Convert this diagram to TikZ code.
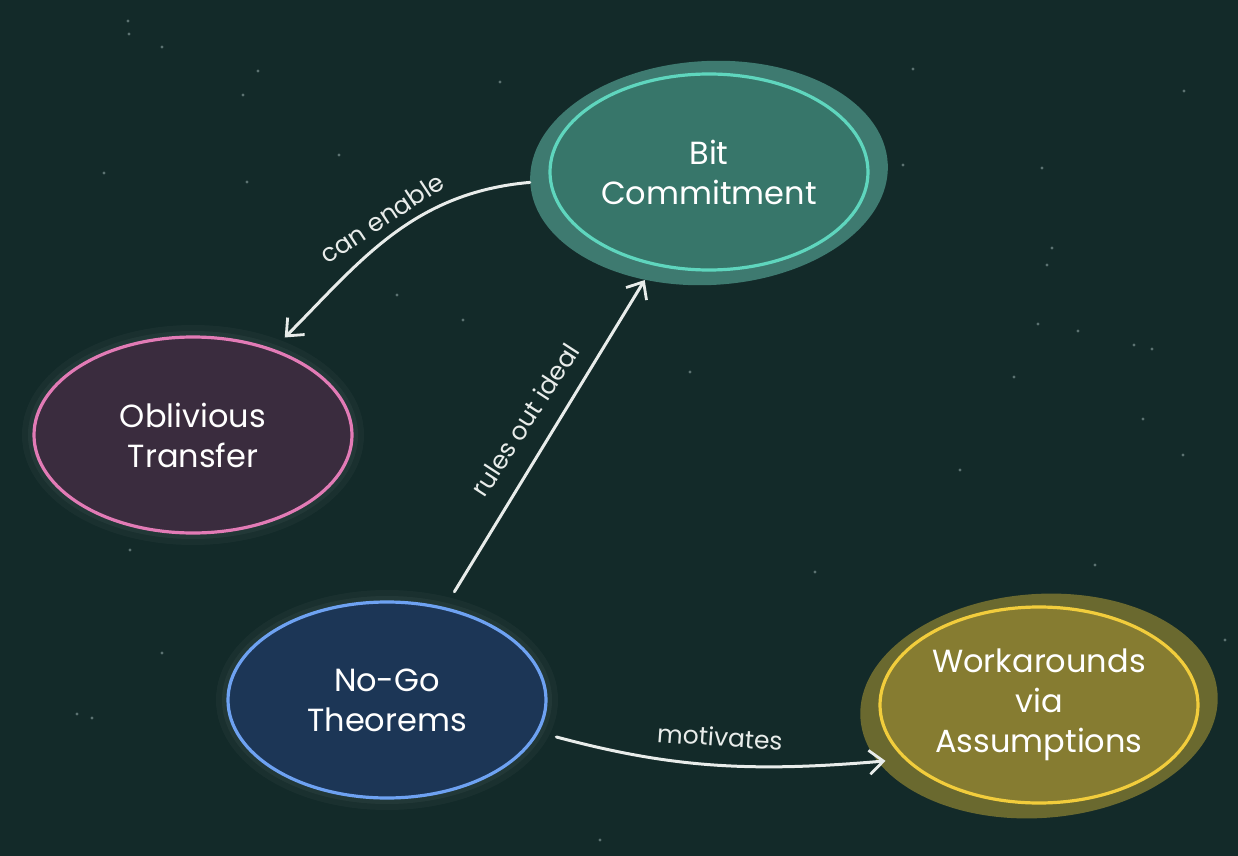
\documentclass[tikz,border=0pt]{standalone}
\usepackage{fontspec}
\setmainfont{Poppins}
\usetikzlibrary{shapes.geometric,arrows.meta}
\definecolor{bgc}{HTML}{132A29}
\definecolor{bcfill}{HTML}{37766A}
\definecolor{bchalo}{HTML}{3E7A70}
\definecolor{bcline}{HTML}{5FD6BE}
\definecolor{otfill}{HTML}{3A2C3E}
\definecolor{otline}{HTML}{E27BB6}
\definecolor{ngfill}{HTML}{1C3656}
\definecolor{ngline}{HTML}{6EA2F2}
\definecolor{wafill}{HTML}{867C31}
\definecolor{wahalo}{HTML}{6A692F}
\definecolor{waline}{HTML}{F2CD3C}
\definecolor{edgec}{HTML}{E8ECEA}
\definecolor{starc}{HTML}{6F8583}
\tikzset{
  concept/.style={ellipse, minimum width=159pt, minimum height=98pt, inner sep=0pt,
    line width=1.6pt, align=center, text=white, font=\fontsize{16}{20}\selectfont},
  halo/.style={ellipse, minimum width=179pt, minimum height=112pt, inner sep=0pt},
  glow/.style={preaction={draw=white, draw opacity=0.03, line width=12pt},
               preaction={draw=white, draw opacity=0.04, line width=6pt}},
  conn/.style={draw=edgec, line width=1.5pt, line cap=round,
    -{Straight Barb[length=7pt, width=12pt, line width=1.4pt]}},
  elabel/.style={text=edgec, font=\fontsize{12.5}{14}\selectfont, inner sep=1pt}
}
\begin{document}
\begin{tikzpicture}[x=0.5pt, y=0.5pt]
\fill[bgc] (0,0) rectangle (1238,-856);
\useasboundingbox (0,0) rectangle (1238,-856);
% stars
\foreach \sx/\sy in {128/21,129/34,162/47,258/71,243/95,339/155,104/173,500/82,247/182,
  913/69,1184/91,1042/168,1052/248,1047/265,1038/324,1078/331,1134/345,1152/349,1143/419,
  1183/455,903/165,690/372,815/572,600/840,77/714,92/718,130/550,1095/565,1225/640,
  397/295,463/320,540/198,1014/377,960/470,355/612,162/653}
  {\fill[starc, opacity=0.8] (\sx,-\sy) circle (1.6);}
% halos
\node[halo, fill=bchalo, rotate=3] (bch) at (709,-173) {};
\node[halo, fill=wahalo, rotate=4] (wah) at (1039,-706) {};
% concepts
\node[concept, fill=bcfill, draw=bcline] (bc) at (709,-172) {Bit\\Commitment};
\node[concept, glow, fill=otfill, draw=otline] (ot) at (193,-435) {Oblivious\\Transfer};
\node[concept, glow, fill=ngfill, draw=ngline] (ng) at (387,-700) {No-Go\\Theorems};
\node[concept, fill=wafill, draw=waline] (wa) at (1039,-705) {Workarounds\\via\\Assumptions};
% connectors
\draw[conn, shorten >=8pt] (bch.180) to[out=185, in=45] (ot.47);
\draw[conn, shorten <=9pt] (ng.58) -- (bch.236.7);
\draw[conn, shorten <=9pt, shorten >=-4pt] (ng.-12) to[out=-15, in=185] (wah.195);
% labels
\node[elabel, rotate=33.5] (l1) at (382,-218) {can enable};
\node[elabel, rotate=57] (l2) at (525,-420) {rules out ideal};
\node[elabel, rotate=-4] (l3) at (720,-737) {motivates};
\end{tikzpicture}
\end{document}
